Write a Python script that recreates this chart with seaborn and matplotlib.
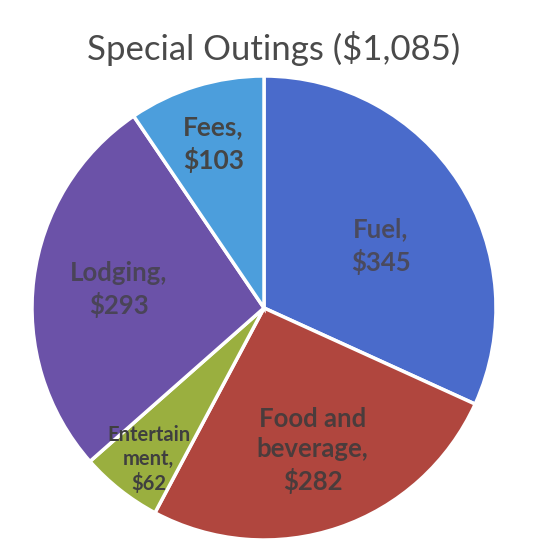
import numpy as np
import matplotlib
matplotlib.use("Agg")
import matplotlib.pyplot as plt
import seaborn as sns

categories = ["Fuel", "Food and beverage", "Entertainment", "Lodging", "Fees"]
values = [345, 282, 62, 293, 103]
label_texts = ["Fuel,\n$345", "Food and\nbeverage,\n$282", "Entertain\nment,\n$62",
               "Lodging,\n$293", "Fees,\n$103"]
title = "Special Outings ($1,085)"

sns.set_theme(style="white")
plt.rcParams['font.family'] = ['Lato', 'DejaVu Sans']

colors = ["#4A6BCB", "#B0463E", "#9AAF3F", "#6B52A8", "#4C9EDC"]
label_r = [0.57, 0.65, 0.82, 0.63, 0.74]
label_dang = [-5, 0, 1, 0, 0]
label_size = [18.5, 18.5, 14.5, 18.5, 19]
label_spacing = [1.35, 1.3, 1.25, 1.35, 1.35]
label_color = ["#4a4a5e", "#4a3c3c", "#3f3f3f", "#4a4458", "#454545"]

W, H = 550, 556
fig = plt.figure(figsize=(W / 100, H / 100), dpi=100)
fig.patch.set_facecolor("white")
cx, cy, R = 264, 308, 232
ax = fig.add_axes([(cx - R) / W, (H - cy - R) / H, 2 * R / W, 2 * R / H])
wedges, _ = ax.pie(values, colors=colors, startangle=90, counterclock=False,
                   wedgeprops=dict(edgecolor="white", linewidth=2.5))
ax.set_xlim(-1, 1)
ax.set_ylim(-1, 1)
ax.set_aspect("equal")
ax.axis("off")

for w, txt, r, da, fs, ls, col in zip(wedges, label_texts, label_r, label_dang,
                                      label_size, label_spacing, label_color):
    ang = np.deg2rad((w.theta1 + w.theta2) / 2 + da)
    ax.text(r * np.cos(ang), r * np.sin(ang), txt, ha="center", va="center",
            fontsize=fs, fontweight="bold", color=col, linespacing=ls)

fig.text(274 / W, 1 - 48 / H, title, ha="center", va="center",
         fontsize=25, color="#4a4a4a")

fig.savefig("out.png", dpi=100, facecolor="white")
